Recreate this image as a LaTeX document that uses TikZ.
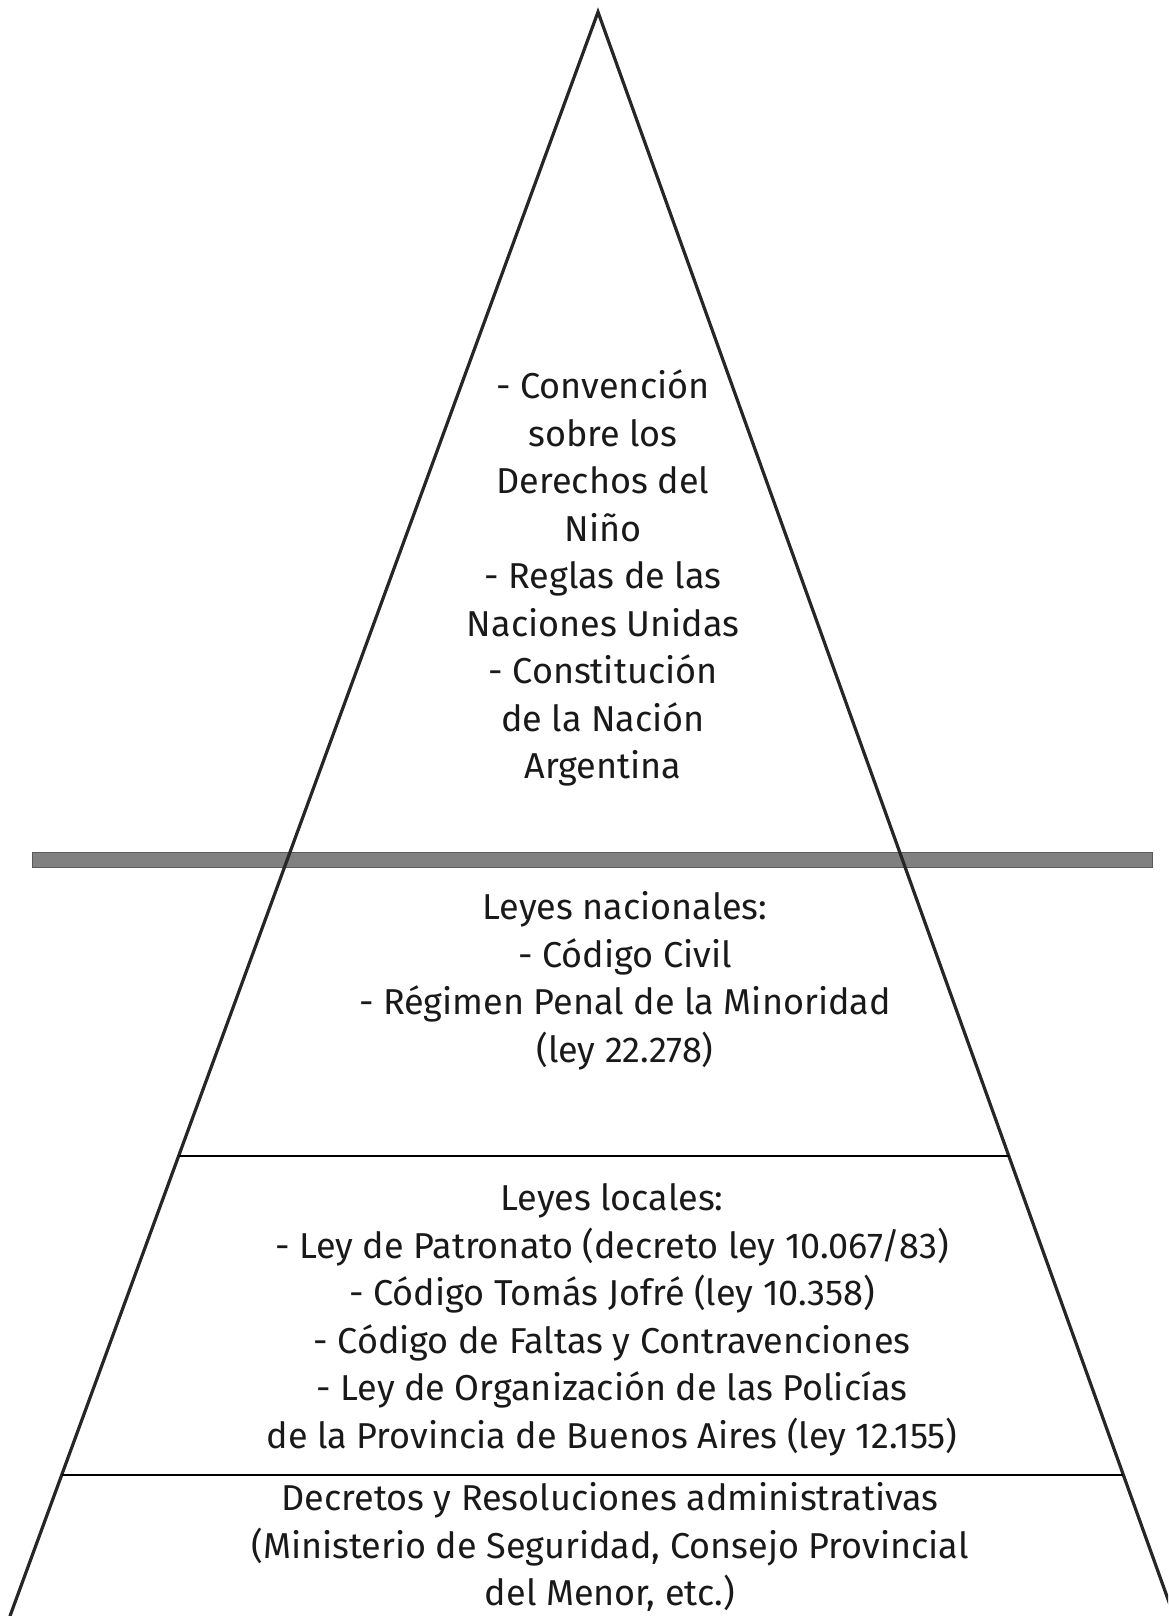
\documentclass[tikz,border=0pt]{standalone}
\usepackage{fontspec}
\setmainfont{Fira Sans}
\usetikzlibrary{calc}
\begin{document}
\begin{tikzpicture}[x=1pt,y=-1pt,
  side/.style={draw=black!85,line width=3.2pt,line cap=round},
  tier/.style={draw=black,line width=2.8pt},
  band/.style={fill=black!50,draw=black!65,line width=1pt},
  txt/.style={align=center,inner sep=0pt,text=black!90,
    font=\fontsize{36}{47.5}\selectfont}]
  \useasboundingbox (0,0) rectangle (1168,1616);
  \clip (0,0) rectangle (1168,1616);
  % pyramid outline
  \coordinate (apex) at (598,12);
  \coordinate (bl) at (10,1616);
  \coordinate (br) at (1174,1616);
  % dividing line between the top tier and the laws below
  \node[band,minimum width=1120pt,minimum height=15pt,inner sep=0pt] (sep) at (592,859.5) {};
  \draw[side] (bl) -- (apex) -- (br);
  % tier boundaries, running from side to side
  \coordinate (l1) at ($(apex)!0.7132!(bl)$);
  \coordinate (r1) at ($(apex)!0.7132!(br)$);
  \coordinate (l2) at ($(apex)!0.9121!(bl)$);
  \coordinate (r2) at ($(apex)!0.9121!(br)$);
  \draw[tier] (l1) -- (r1);
  \draw[tier] (l2) -- (r2);
  % tier texts
  \node[txt] (top) at (603,578) {- Convención\\sobre los\\Derechos del\\Niño\\- Reglas de las\\Naciones Unidas\\- Constitución\\de la Nación\\Argentina};
  \node[txt] (nac) at (625,981) {Leyes nacionales:\\- Código Civil\\- Régimen Penal de la Minoridad\\(ley 22.278)};
  \node[txt] (loc) at (612,1320) {Leyes locales:\\- Ley de Patronato (decreto ley 10.067/83)\\- Código Tomás Jofré (ley 10.358)\\- Código de Faltas y Contravenciones\\- Ley de Organización de las Policías\\de la Provincia de Buenos Aires (ley 12.155)};
  \node[txt] (adm) at (610,1547) {Decretos y Resoluciones administrativas\\(Ministerio de Seguridad, Consejo Provincial\\del Menor, etc.)};
\end{tikzpicture}
\end{document}
